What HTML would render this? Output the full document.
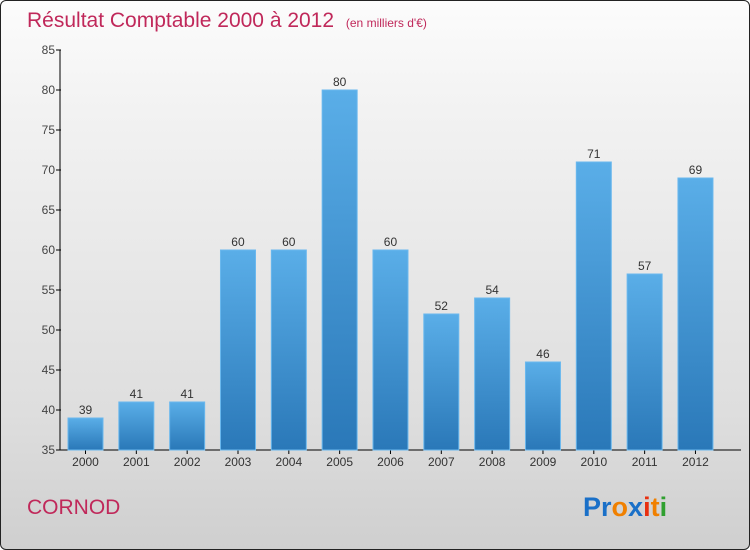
<!DOCTYPE html>
<html><head><meta charset="utf-8"><style>
body{margin:0}
#c{position:relative;width:748px;height:548px;border:1px solid #222;border-radius:6px;overflow:hidden;background:linear-gradient(#fcfcfc,#f2f2f2 20%,#dedede 75%,#cfcfcf);font-family:"Liberation Sans",sans-serif}
</style></head><body>
<div id="c">
<svg width="748" height="548" viewBox="0 0 748 548">
<defs><linearGradient id="bg" x1="0" y1="0" x2="0" y2="1"><stop offset="0" stop-color="#5aaee8"/><stop offset="1" stop-color="#2a78b8"/></linearGradient></defs>
<text x="26" y="26" font-size="21" fill="#c0285a">Résultat Comptable 2000 à 2012 <tspan font-size="12" dx="6">(en milliers d'€)</tspan></text>
<g id="axes"></g><g id="bars"></g>
<text x="26" y="513" font-size="21" fill="#c0285a">CORNOD</text>
<text x="582" y="515" font-size="27" font-weight="bold"><tspan fill="#1a70c8">Pr</tspan><tspan fill="#f08000">o</tspan><tspan fill="#1a70c8">x</tspan><tspan fill="#e83010">i</tspan><tspan fill="#f08000">t</tspan><tspan fill="#30a030">i</tspan></text>
</svg></div>
<script>
const years=["2000","2001","2002","2003","2004","2005","2006","2007","2008","2009","2010","2011","2012"];
const values=[39,41,41,60,60,80,60,52,54,46,71,57,69];
const ticks=[35,40,45,50,55,60,65,70,75,80,85];
const NS="http://www.w3.org/2000/svg";
const x0=59,y0=449,pitch=50.83,ymin=35,ppu=8;
const Y=v=>y0-(v-ymin)*ppu;
function mk(t,a,p){const e=document.createElementNS(NS,t);for(const k in a)e.setAttribute(k,a[k]);p.appendChild(e);return e;}
const ax=document.getElementById('axes'),bg=document.getElementById('bars');
let l=mk('line',{x1:x0,y1:y0,x2:740,y2:y0,stroke:'#000'},ax);


l=mk('line',{x1:x0,y1:Y(85),x2:x0,y2:y0,stroke:'#000'},ax);


ticks.forEach(t=>{
 mk('line',{x1:x0-4,y1:Y(t),x2:x0+1,y2:Y(t),stroke:'#000'},ax);
 const tx=mk('text',{x:x0-5,y:Y(t)+4,'font-size':12,fill:'#444','text-anchor':'end'},ax);
 tx.textContent=t;
 
 
});
years.forEach((yr,i)=>{
 const bx=x0+8+i*pitch,v=values[i];
 const r=mk('rect',{x:bx,y:Y(v),width:35,height:y0-Y(v),fill:'url(#bg)',stroke:'#6ab8ee','stroke-width':1},bg);
 
 
 const vt=mk('text',{x:bx+17.5,y:Y(v)-4,'font-size':12,fill:'#333','text-anchor':'middle'},bg);
 vt.textContent=v;
 
 
 mk('line',{x1:bx+17.5,y1:y0,x2:bx+17.5,y2:y0+4,stroke:'#000'},ax);
 const xt=mk('text',{x:bx+17.5,y:y0+16,'font-size':12,fill:'#333','text-anchor':'middle'},ax);
 xt.textContent=yr;
 
 
});
</script>
</body></html>
